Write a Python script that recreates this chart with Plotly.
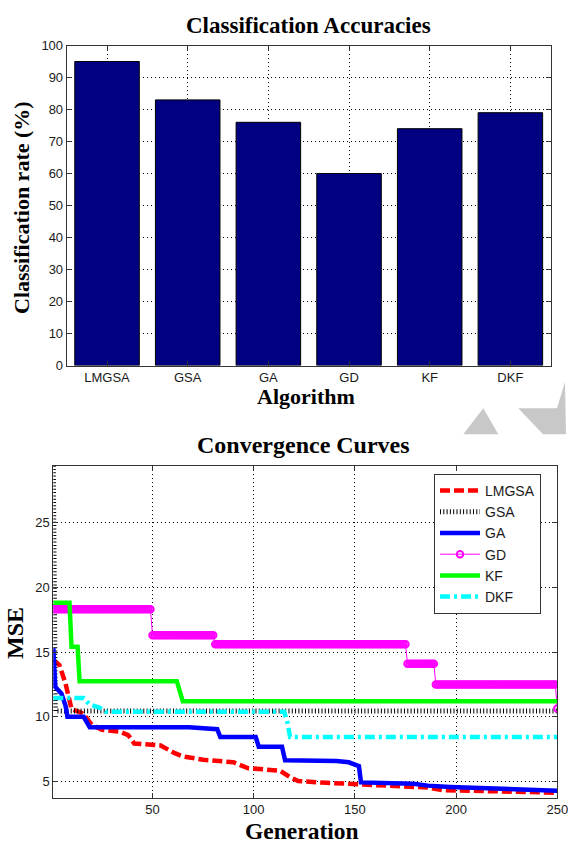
import numpy as np
import plotly.graph_objects as go

# ---------------- data ----------------
algorithms = ["LMGSA", "GSA", "GA", "GD", "KF", "DKF"]
accuracy = [95, 83, 76, 60, 74, 79]

lmgsa_gen = [1, 4, 7, 10, 15, 17, 20, 25, 34, 38, 41, 54, 61, 65, 75, 90, 97, 113, 118, 122, 136, 154, 172, 186, 193, 207, 225, 250]
lmgsa_mse = [14.4, 14.0, 12.6, 10.6, 10.3, 10.0, 9.4, 9.0, 8.85, 8.6, 7.95, 7.8, 7.2, 6.95, 6.7, 6.5, 6.05, 5.85, 5.35, 5.05, 4.92, 4.8, 4.67, 4.55, 4.36, 4.3, 4.23, 4.15]

gsa_gen = [1, 2, 250]
gsa_mse = [29.36, 10.45, 10.45]

ga_gen = [1, 2, 5, 7, 8, 16, 19, 68, 82, 83.5, 101, 102.5, 114, 115.5, 141, 147, 152, 153, 179, 186, 197, 218, 222, 250]
ga_mse = [15.3, 12.3, 11.8, 10.9, 10.0, 10.0, 9.2, 9.2, 9.05, 8.45, 8.45, 7.7, 7.7, 6.65, 6.6, 6.5, 6.2, 4.95, 4.85, 4.7, 4.6, 4.5, 4.4, 4.3]

gd_change_gen = [1, 50, 81, 176, 190, 250]
gd_change_mse = [18.3, 16.3, 15.6, 14.1, 12.5, 10.65]

kf_gen = [1, 9, 10, 13, 14, 62, 65, 250]
kf_mse = [18.8, 18.8, 15.4, 15.4, 12.75, 12.75, 11.2, 11.2]

dkf_gen = [1, 16, 19, 24, 27, 115, 116.5, 118, 250]
dkf_mse = [11.45, 11.45, 10.95, 10.7, 10.4, 10.4, 9.7, 8.45, 8.45]

x_ticks = [50, 100, 150, 200, 250]
y_ticks = [5, 10, 15, 20, 25]
acc_ticks = list(range(0, 101, 10))

# GD is recorded every generation (held value between change points)
generation = np.arange(1, 251)
gd_mse = np.array(gd_change_mse)[np.searchsorted(gd_change_gen, generation, side="right") - 1]

# ---------------- figure ----------------
W, H = 568, 843
def px(x):
    return x / W
def py(y):
    return 1 - y / H

fig = go.Figure()

fig.add_trace(go.Bar(
    x=algorithms, y=accuracy, marker=dict(color="#000080", line=dict(color="black", width=1)),
    showlegend=False, xaxis="x", yaxis="y"))

lw = 4.5
fig.add_trace(go.Scatter(x=lmgsa_gen, y=lmgsa_mse, name="LMGSA", mode="lines",
                         line=dict(color="#ff0000", width=lw, dash="10px,4px"), xaxis="x2", yaxis="y2"))
fig.add_trace(go.Scatter(x=gsa_gen, y=gsa_mse, name="GSA", mode="lines",
                         line=dict(color="black", width=5, dash="1px,2.3px"), xaxis="x2", yaxis="y2"))
fig.add_trace(go.Scatter(x=ga_gen, y=ga_mse, name="GA", mode="lines",
                         line=dict(color="#0000ff", width=lw), xaxis="x2", yaxis="y2"))
fig.add_trace(go.Scatter(x=generation, y=gd_mse, name="GD", mode="lines+markers",
                         line=dict(color="#ff00ff", width=1),
                         marker=dict(symbol="circle-open", size=6.5, color="#ff00ff", line=dict(width=2)),
                         xaxis="x2", yaxis="y2"))
fig.add_trace(go.Scatter(x=kf_gen, y=kf_mse, name="KF", mode="lines",
                         line=dict(color="#00ff00", width=lw), xaxis="x2", yaxis="y2"))
fig.add_trace(go.Scatter(x=dkf_gen, y=dkf_mse, name="DKF", mode="lines",
                         line=dict(color="#00ffff", width=lw, dash="10px,4px,3px,4px"), xaxis="x2", yaxis="y2"))

tickfont = dict(family="Liberation Sans, Arial, sans-serif", size=13, color="#1a1a1a")
axis_common = dict(showline=True, linecolor="#333333", linewidth=1, mirror="ticks",
                   ticks="inside", ticklen=5, tickcolor="#333333", tickfont=tickfont,
                   showgrid=True, gridcolor="black", gridwidth=1, griddash="1px,3px",
                   zeroline=False, ticklabeloverflow="allow", automargin=False)

fig.update_layout(
    width=W, height=H, margin=dict(l=0, r=0, t=0, b=0, pad=0, autoexpand=False),
    paper_bgcolor="white", plot_bgcolor="white",
    bargap=0.2,
    xaxis=dict(domain=[px(66.7), px(550.7)], anchor="y", range=[-0.5, 5.5], **axis_common),
    yaxis=dict(domain=[py(365.5), py(45.5)], anchor="x", range=[0, 100], tickvals=acc_ticks, **axis_common),
    xaxis2=dict(domain=[px(53.3), px(557.3)], anchor="y2", range=[1, 250], tickvals=x_ticks, **axis_common),
    yaxis2=dict(domain=[py(797.7), py(465.7)], anchor="x2", range=[3.77, 29.36], tickvals=y_ticks, **axis_common),
    legend=dict(x=px(434), y=py(474), xanchor="left", yanchor="top",
                bgcolor="white", bordercolor="#333333", borderwidth=1,
                font=dict(family="Liberation Sans, Arial, sans-serif", size=14, color="#1a1a1a"),
                tracegroupgap=0, itemwidth=40),
)

serif = "Liberation Serif, Times New Roman, serif"
annots = [
    ("Classification Accuracies", 308, 25, 0, 23),
    ("Classification rate (%)", 22, 208, -90, 22),
    ("Algorithm", 306, 397, 0, 22),
    ("Convergence Curves", 303, 445, 0, 24),
    ("MSE", 15, 633, -90, 24),
    ("Generation", 302, 831, 0, 23.5),
]
for text, x, y, ang, size in annots:
    fig.add_annotation(text="<b>%s</b>" % text, x=px(x), y=py(y), xref="paper", yref="paper",
                       xanchor="center", yanchor="middle", showarrow=False, textangle=ang,
                       font=dict(family=serif, size=size, color="black"))

# light grey watermark shapes between the panels
fig.add_shape(type="path", xref="paper", yref="paper",
              path="M %f %f L %f %f L %f %f Z" % (px(483.3), py(408.3), px(498.3), py(434.3), px(463.3), py(434.3)),
              fillcolor="#c8c8c8", line=dict(width=0), layer="below")
fig.add_shape(type="path", xref="paper", yref="paper",
              path="M %f %f L %f %f L %f %f L %f %f L %f %f Z" % (
                  px(518.3), py(408.3), px(557), py(408.3), px(565), py(382),
                  px(566), py(434.3), px(543), py(434.3)),
              fillcolor="#c8c8c8", line=dict(width=0), layer="below")

# remove the browser's default 8px body margin so the figure fills the window exactly
fig.write_html("out.html", config={"displayModeBar": False},
               post_script="document.body.style.margin='0';document.body.style.overflow='hidden';")
